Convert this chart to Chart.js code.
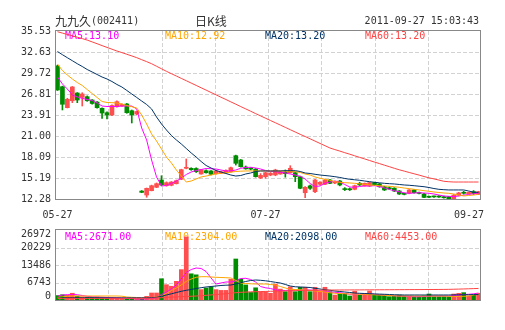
<!DOCTYPE html>
<html>
<head>
<meta charset="utf-8">
<script src="https://cdn.jsdelivr.net/npm/chart.js@4.4.0/dist/chart.umd.min.js"></script>
<style>
  html, body { margin: 0; padding: 0; background: #fff; }
  #wrap { position: relative; width: 505px; height: 330px; }
  #kline { position: absolute; left: 0; top: 0; }
  #vol { position: absolute; left: 0; top: 222px; }
</style>
</head>
<body>
<div id="wrap">
  <canvas id="kline" width="505" height="222"></canvas>
  <canvas id="vol" width="505" height="108"></canvas>
</div>
<script>
// 九九久 (002411) daily K line, 2011-05-27 .. 2011-09-27
const dates = ['05-27','05-30','05-31',
  '06-01','06-02','06-03','06-07','06-08','06-09','06-10','06-13','06-14','06-15','06-16','06-17',
  '06-20','06-21','06-22','06-23','06-24','06-27','06-28','06-29','06-30',
  '07-01','07-04','07-05','07-06','07-07','07-08','07-11','07-12','07-13','07-14','07-15',
  '07-18','07-19','07-20','07-21','07-22','07-25','07-26','07-27','07-28','07-29',
  '08-01','08-02','08-03','08-04','08-05','08-08','08-09','08-10','08-11','08-12',
  '08-15','08-16','08-17','08-18','08-19','08-22','08-23','08-24','08-25','08-26',
  '08-29','08-30','08-31',
  '09-01','09-02','09-05','09-06','09-07','09-08','09-09','09-13','09-14','09-15','09-16',
  '09-19','09-20','09-21','09-22','09-23','09-26','09-27'];

const open = [30.69, 27.82, 24.92, 25.88, 26.95, 26.35, 26.44, 25.98, 25.70, 24.83,
  24.22, 23.91, 25.05, 25.15, 25.43, 24.50, 24.04, 13.38, 12.83, 13.43,
  13.90, 14.91, 14.12, 14.18, 14.40, 15.01, 16.53, 16.53, 16.50, 15.74,
  16.20, 16.16, 15.78, 15.85, 15.88, 16.06, 18.27, 17.68, 16.70, 16.50,
  16.40, 15.20, 15.37, 15.60, 15.60, 15.74, 16.00, 15.92, 15.92, 15.37,
  13.15, 14.10, 13.29, 14.32, 14.32, 14.91, 14.50, 14.77, 13.68, 13.66,
  13.62, 14.45, 14.12, 14.08, 14.54, 14.36, 13.98, 13.80, 13.78, 13.39,
  13.00, 13.07, 13.53, 13.15, 12.97, 12.60, 12.62, 12.65, 12.60, 12.62,
  12.33, 12.78, 13.12, 13.00, 13.30, 12.93];
const high = [30.80, 27.90, 26.22, 27.85, 27.00, 26.99, 26.55, 26.05, 25.75, 24.90,
  24.36, 25.30, 25.88, 25.45, 25.50, 24.60, 24.45, 13.45, 13.80, 14.20,
  14.50, 15.50, 14.65, 14.70, 14.90, 16.40, 17.82, 16.60, 16.60, 16.40,
  16.30, 16.20, 16.25, 16.10, 16.30, 16.70, 18.35, 17.75, 16.85, 16.60,
  16.50, 15.80, 16.00, 15.95, 16.40, 16.15, 16.30, 16.89, 16.00, 15.45,
  14.00, 14.20, 15.00, 14.70, 15.00, 15.00, 14.75, 14.85, 13.85, 13.80,
  14.20, 14.60, 14.50, 14.60, 14.60, 14.45, 14.05, 13.95, 13.85, 13.45,
  13.10, 13.60, 13.60, 13.25, 13.05, 12.70, 12.70, 12.75, 12.70, 12.65,
  12.90, 13.20, 13.35, 13.25, 13.45, 13.35];
const low = [27.30, 24.60, 24.88, 25.61, 25.61, 25.15, 25.80, 25.40, 24.85, 23.42,
  23.35, 23.80, 25.00, 25.10, 24.15, 22.80, 23.95, 13.15, 12.52, 13.40,
  13.85, 14.10, 14.05, 14.10, 14.35, 14.95, 16.45, 16.25, 15.95, 15.70,
  15.85, 15.60, 15.70, 15.80, 15.85, 16.00, 16.98, 16.70, 16.40, 16.30,
  15.30, 15.10, 15.15, 15.50, 15.50, 15.70, 15.30, 15.85, 14.68, 13.70,
  12.46, 13.60, 13.15, 14.20, 14.25, 14.40, 14.40, 14.10, 13.45, 13.45,
  13.55, 14.15, 14.05, 14.00, 14.15, 13.90, 13.45, 13.60, 13.30, 12.90,
  12.85, 13.00, 13.10, 13.00, 12.45, 12.45, 12.50, 12.50, 12.40, 12.28,
  12.28, 12.70, 12.95, 12.95, 12.90, 12.90];
const close = [27.37, 25.39, 26.08, 27.78, 25.98, 26.81, 25.88, 25.50, 24.92, 24.18,
  23.91, 25.22, 25.75, 25.36, 24.22, 23.91, 24.39, 13.20, 13.76, 14.12,
  14.40, 14.22, 14.54, 14.63, 14.81, 16.34, 16.67, 16.34, 16.06, 16.34,
  15.92, 15.70, 16.16, 16.06, 16.22, 16.61, 17.22, 16.75, 16.45, 16.42,
  15.37, 15.55, 15.92, 15.84, 16.29, 16.06, 15.80, 16.53, 15.37, 13.76,
  13.90, 13.76, 14.91, 14.59, 14.91, 14.45, 14.65, 14.22, 13.58, 13.56,
  14.12, 14.22, 14.45, 14.54, 14.22, 13.98, 13.53, 13.70, 13.39, 12.97,
  12.92, 13.53, 13.15, 13.05, 12.50, 12.52, 12.57, 12.55, 12.45, 12.30,
  12.82, 13.12, 13.07, 13.20, 13.05, 13.29];

// moving averages as published by the quote page
const ma5 = [29.16, 28.20, 27.50, 26.67, 26.40, 26.22, 26.05, 25.91, 25.57, 25.15,
  25.08, 25.08, 25.08, 25.15, 25.15, 25.15, 24.74, 22.11, 20.45, 17.68,
  15.33, 14.08, 14.15, 14.43, 14.77, 15.15, 15.67, 16.02, 16.22, 16.36,
  16.50, 16.47, 16.43, 16.29, 16.16, 16.16, 16.29, 16.53, 16.64, 16.67,
  16.57, 16.43, 16.22, 16.09, 16.06, 15.98, 15.88, 15.74, 15.60, 15.42,
  15.05, 14.43, 14.01, 14.08, 14.45, 14.63, 14.77, 14.63, 14.29, 13.94,
  13.90, 14.01, 14.08, 14.08, 14.12, 14.01, 13.80, 13.60, 13.42, 13.28,
  13.14, 13.07, 13.11, 13.15, 13.11, 13.07, 12.97, 12.83, 12.70, 12.65,
  12.60, 12.70, 12.81, 12.90, 13.00, 13.10];
const ma10 = [30.96, 30.06, 29.44, 28.89, 28.40, 27.99, 27.43, 26.88, 26.33, 25.77,
  25.64, 25.61, 25.57, 25.43, 25.22, 25.05, 24.87, 23.91, 22.66, 21.28,
  20.31, 19.20, 18.09, 17.26, 16.29, 15.46, 14.63, 14.77, 15.05, 15.33,
  15.46, 15.60, 15.74, 15.84, 15.92, 15.99, 16.09, 16.13, 16.16, 16.16,
  16.16, 16.16, 16.16, 16.16, 16.16, 16.16, 16.12, 16.09, 16.06, 15.95,
  15.74, 15.60, 15.33, 15.15, 15.01, 14.87, 14.68, 14.59, 14.54, 14.50,
  14.45, 14.38, 14.32, 14.22, 14.18, 14.12, 14.08, 14.04, 13.98, 13.90,
  13.80, 13.71, 13.62, 13.53, 13.43, 13.35, 13.25, 13.18, 13.11, 13.07,
  12.97, 12.83, 12.70, 12.77, 12.83, 12.92];
const ma20 = [32.69, 32.25, 31.83, 31.42, 31.00, 30.62, 30.20, 29.86, 29.51, 29.16,
  28.89, 28.54, 28.13, 27.78, 27.30, 26.81, 26.33, 25.84, 25.36, 24.74,
  23.63, 22.66, 21.83, 21.07, 20.45, 19.89, 19.27, 18.65, 18.09, 17.47,
  16.92, 16.57, 16.22, 16.02, 15.81, 15.60, 15.46, 15.53, 15.74, 15.88,
  16.09, 16.16, 16.16, 16.16, 16.16, 16.16, 16.20, 16.20, 16.20, 16.09,
  15.88, 15.81, 15.70, 15.60, 15.53, 15.46, 15.37, 15.26, 15.12, 15.01,
  14.94, 14.87, 14.77, 14.68, 14.59, 14.52, 14.45, 14.40, 14.36, 14.29,
  14.22, 14.18, 14.12, 14.05, 13.98, 13.87, 13.73, 13.62, 13.57, 13.53,
  13.53, 13.53, 13.53, 13.39, 13.22, 13.20];
const ma60 = [35.43, 35.24, 35.05, 34.87, 34.67, 34.48, 34.27, 34.02, 33.77, 33.51,
  33.26, 33.01, 32.76, 32.54, 32.31, 32.08, 31.84, 31.56, 31.29, 31.00,
  30.65, 30.30, 29.95, 29.62, 29.30, 28.97, 28.65, 28.32, 28.00, 27.67,
  27.35, 27.02, 26.70, 26.37, 26.05, 25.72, 25.40, 25.07, 24.75, 24.43,
  24.10, 23.78, 23.46, 23.14, 22.83, 22.51, 22.19, 21.87, 21.55, 21.23,
  20.93, 20.61, 20.29, 19.97, 19.66, 19.34, 19.12, 18.91, 18.69, 18.48,
  18.26, 18.04, 17.83, 17.61, 17.39, 17.18, 16.96, 16.75, 16.53, 16.32,
  16.14, 15.95, 15.77, 15.59, 15.39, 15.21, 15.06, 14.90, 14.73, 14.67,
  14.63, 14.63, 14.63, 14.63, 14.63, 14.63];

// volume (lots) and its averages
const volume = [1700, 2000, 1900, 2600, 1500, 1200, 1100, 1000, 1100, 900,
  800, 700, 700, 500, 600, 700, 300, 400, 1400, 2700,
  2700, 8200, 5900, 5300, 7200, 11700, 24300, 10100, 9700, 4000,
  4600, 5000, 4000, 3700, 3700, 8000, 15800, 8000, 5800, 2900,
  4700, 3200, 3200, 2600, 6150, 4200, 3200, 5100, 3200, 4900,
  4900, 3200, 4900, 3200, 4900, 3200, 1900, 2300, 2560, 1540,
  3400, 1900, 2560, 3470, 1900, 1900, 1900, 1280, 1540, 1900,
  1540, 1540, 1280, 1280, 1540, 2300, 1280, 1280, 1280, 1280,
  2300, 2560, 2830, 1540, 1900, 2560];
const volMa5 = [1540, 1930, 2040, 2120, 2040, 1730, 1430, 1230, 1160, 1080,
  960, 850, 770, 660, 580, 540, 460, 390, 460, 620,
  850, 2120, 3080, 4240, 5780, 8090, 10600, 11750, 12330, 12140,
  10980, 8480, 6170, 6550, 6940, 6940, 7320, 8280, 8360, 7900,
  6940, 5200, 4700, 4430, 3930, 3660, 3660, 3850, 3850, 3850,
  3850, 3850, 3660, 3470, 3280, 3080, 2970, 2810, 2500, 2200,
  2240, 2270, 2310, 2310, 2200, 2000, 1850, 1730, 1620, 1540,
  1460, 1350, 1270, 1270, 1350, 1460, 1540, 1540, 1540, 1540,
  1660, 1930, 2120, 2200, 2390, 2671];
const volMa10 = [960, 1230, 1430, 1540, 1540, 1540, 1540, 1540, 1540, 1540,
  1540, 1540, 1540, 1460, 1160, 1040, 960, 890, 850, 930,
  1160, 1540, 2500, 3660, 4620, 5780, 7130, 8090, 8750, 8980,
  8980, 8860, 8750, 8670, 8590, 8480, 7510, 6550, 6360, 6240,
  6170, 6170, 6170, 5970, 5780, 5200, 4620, 4120, 4050, 3930,
  3850, 3660, 3470, 3280, 3080, 2770, 2580, 2500, 2430, 2310,
  2310, 2240, 2160, 2080, 2000, 1930, 1810, 1700, 1620, 1540,
  1540, 1540, 1540, 1540, 1540, 1540, 1540, 1540, 1540, 1430,
  1350, 1350, 1430, 1540, 1900, 2304];
const volMa20 = [690, 770, 850, 850, 850, 850, 850, 850, 850, 850,
  850, 850, 850, 850, 850, 850, 850, 850, 850, 930,
  1040, 1430, 1930, 2390, 2890, 3350, 3740, 4050, 4430, 4740,
  5010, 5200, 5390, 5590, 5700, 5780, 6170, 6670, 7130, 7510,
  7710, 7590, 7400, 7130, 6820, 6550, 5970, 5390, 5090, 5010,
  4930, 4820, 4510, 4240, 3970, 3740, 3470, 3280, 3080, 2890,
  2700, 2580, 2500, 2430, 2350, 2270, 2200, 2120, 2040, 1970,
  1930, 1930, 1930, 1930, 1930, 1930, 1930, 1930, 1930, 1930,
  1970, 2000, 2040, 2040, 2080, 2098];
const volMa60 = [580, 580, 580, 580, 580, 600, 600, 600, 620, 620,
  620, 640, 640, 650, 650, 650, 660, 660, 660, 700,
  800, 900, 1000, 1100, 1200, 1280, 1360, 1440, 1540, 1650,
  1800, 1950, 2100, 2250, 2450, 2650, 2800, 2950, 3050, 3150,
  3200, 3250, 3300, 3350, 3400, 3450, 3500, 3550, 3600, 3650,
  3700, 3730, 3760, 3790, 3820, 3850, 3850, 3860, 3870, 3880,
  3890, 3900, 3910, 3920, 3930, 3940, 3950, 3960, 3970, 3980,
  3990, 4000, 4010, 4020, 4030, 4040, 4050, 4060, 4080, 4100,
  4150, 4200, 4260, 4320, 4390, 4453];

const priceTicks = [12.28, 15.19, 18.09, 21.00, 23.91, 26.81, 29.72, 32.63, 35.53];
const volTicks = [0, 6743, 13486, 20229, 26972];
const xTickLabels = ['05-27', '07-27', '09-27'];
const priceLegend = ['MA5:13.10', 'MA10:12.92', 'MA20:13.20', 'MA60:13.20'];
const volLegend = ['MA5:2671.00', 'MA10:2304.00', 'MA20:2098.00', 'MA60:4453.00'];

const RED = '#ff4e4e', GREEN = '#008c00', TEXT = '#333333';
const maColors = ['#ff00ff', '#ffa500', '#003366', '#ff4444'];
const MONO = "10px 'DejaVu Sans Mono', monospace";
const CJK = "12px 'Noto Sans CJK SC', sans-serif";

const candleColor = close.map((c, i) => c >= open[i] ? RED : GREEN);

// grid, frame, tick labels and MA legend, drawn by hand around the plot
const frame = {
  id: 'frame',
  beforeDatasetsDraw(chart, args, o) {
    const { ctx, chartArea: a } = chart;
    const y = chart.scales.y;
    ctx.save();
    ctx.strokeStyle = '#d2d2d2';
    ctx.lineWidth = 1;
    ctx.setLineDash([4, 2]);
    ctx.beginPath();
    o.ticks.forEach(v => {
      const py = Math.round(y.getPixelForValue(v)) + 0.5;
      if (py < a.top + 2 || py > a.bottom - 2) return;
      ctx.moveTo(a.left, py); ctx.lineTo(a.right, py);
    });
    for (let k = 1; k < 8; k++) {
      const px = Math.round(a.left + (a.right - a.left) * k / 8) + 0.5;
      ctx.moveTo(px, a.top); ctx.lineTo(px, a.bottom);
    }
    ctx.stroke();
    ctx.setLineDash([]);
    ctx.font = MONO;
    ctx.textAlign = 'left';
    ctx.textBaseline = 'middle';
    o.legend.forEach((t, k) => {
      ctx.fillStyle = maColors[k];
      ctx.fillText(t, a.left + 10 + 100 * k, a.top + o.legendDy);
    });
    ctx.restore();
  },
  afterDatasetsDraw(chart, args, o) {
    const { ctx, chartArea: a } = chart;
    const y = chart.scales.y, x = chart.scales.x;
    ctx.save();
    ctx.strokeStyle = '#888888';
    ctx.lineWidth = 1;
    ctx.strokeRect(a.left + 0.5, a.top - 0.5, a.right - a.left - 1, a.bottom - a.top + 1);

    ctx.font = MONO;
    ctx.fillStyle = TEXT;
    ctx.textAlign = 'right';
    ctx.textBaseline = 'middle';
    o.ticks.forEach(v => {
      let py = y.getPixelForValue(v);
      if (o.clamp) py = Math.min(Math.max(py, a.top + 4), a.bottom - 4);
      ctx.fillText(o.fmt(v), a.left - 4, py);
    });

    if (o.xLabels) {
      ctx.textAlign = 'center';
      xTickLabels.forEach(t => {
        const w = ctx.measureText(t).width;
        let px = x.getPixelForValue(dates.indexOf(t));
        px = Math.min(px, a.right + 3 - w / 2);
        ctx.fillText(t, px, a.bottom + 16.5);
      });
    }

    if (o.title) {
      ctx.textAlign = 'left';
      ctx.font = CJK;
      ctx.fillText('九九久', a.left, 21);
      ctx.fillText('日K线', 195, 21);
      ctx.font = MONO;
      ctx.fillText('(002411)', a.left + 36, 21.5);
      ctx.textAlign = 'right';
      ctx.fillText('2011-09-27 15:03:43', 479, 21.5);
    }
    ctx.restore();
  }
};

function maLine(data, k) {
  return { type: 'line', data: data, borderColor: maColors[k], borderWidth: 1,
           pointRadius: 0, tension: 0, fill: false, order: 4 - k };
}

const baseOptions = (pad, yMin, yMax, frameOpts) => ({
  responsive: false,
  animation: false,
  events: [],
  layout: { padding: pad },
  scales: {
    x: { display: false, offset: true },
    y: { display: false, min: yMin, max: yMax }
  },
  plugins: { legend: { display: false }, tooltip: { enabled: false }, frame: frameOpts }
});

new Chart(document.getElementById('kline').getContext('2d'), {
  type: 'bar',
  data: {
    labels: dates,
    datasets: [
      { type: 'bar', data: low.map((l, i) => [l, high[i]]), backgroundColor: candleColor,
        barThickness: 1, grouped: false, order: 10 },
      { type: 'bar', data: open.map((o, i) => [o, close[i]]), backgroundColor: candleColor,
        barThickness: 4, minBarLength: 1, grouped: false, order: 9 },
      maLine(ma5, 0), maLine(ma10, 1), maLine(ma20, 2), maLine(ma60, 3)
    ]
  },
  options: baseOptions({ left: 55, right: 24, top: 31, bottom: 23 }, 12.28, 35.53,
    { ticks: priceTicks, fmt: v => v.toFixed(2), clamp: false, legend: priceLegend,
      legendDy: 5, xLabels: true, title: true }),
  plugins: [frame]
});

new Chart(document.getElementById('vol').getContext('2d'), {
  type: 'bar',
  data: {
    labels: dates,
    datasets: [
      { type: 'bar', data: volume, backgroundColor: candleColor, barThickness: 4,
        grouped: false, order: 10 },
      maLine(volMa5, 0), maLine(volMa10, 1), maLine(volMa20, 2), maLine(volMa60, 3)
    ]
  },
  options: baseOptions({ left: 55, right: 24, top: 8, bottom: 30 }, 0, 26972,
    { ticks: volTicks, fmt: v => String(v), clamp: true, legend: volLegend,
      legendDy: 7, xLabels: false, title: false }),
  plugins: [frame]
});
</script>
</body>
</html>
